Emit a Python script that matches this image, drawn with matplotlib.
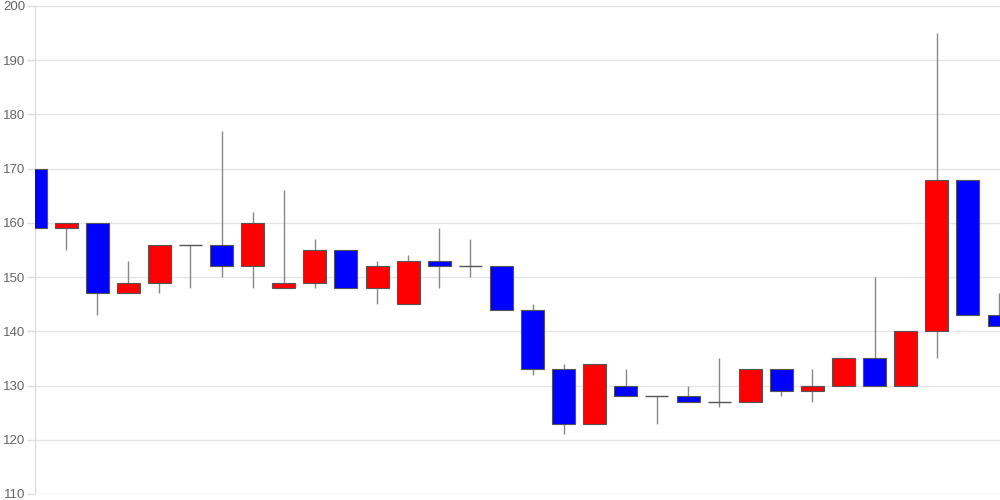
import numpy as np
import matplotlib
matplotlib.use('Agg')
import matplotlib.pyplot as plt

plt.rcParams['font.family'] = ['Liberation Sans', 'DejaVu Sans']

# daily OHLC values
opens  = [170, 159, 160, 147, 149, 156, 156, 152, 148, 149, 155, 148, 145, 153, 152, 152,
          144, 133, 123, 130, 128, 128, 127, 127, 133, 129, 130, 135, 130, 140, 168, 143]
closes = [159, 160, 147, 149, 156, 156, 152, 160, 149, 155, 148, 152, 153, 152, 152, 144,
          133, 123, 134, 128, 128, 127, 127, 133, 129, 130, 135, 130, 140, 168, 143, 141]
highs  = [170, 160, 160, 153, 156, 156, 177, 162, 166, 157, 155, 153, 154, 159, 157, 152,
          145, 134, 134, 133, 128, 130, 135, 133, 133, 133, 135, 150, 140, 195, 168, 147]
lows   = [159, 155, 143, 147, 147, 148, 150, 148, 148, 148, 148, 145, 145, 148, 150, 144,
          132, 121, 123, 128, 123, 127, 126, 127, 128, 127, 130, 130, 130, 135, 143, 141]
yticks = [110, 120, 130, 140, 150, 160, 170, 180, 190, 200]

fig = plt.figure(figsize=(10, 5), dpi=100)
ax = fig.add_axes([0.035, 0.012, 0.965, 0.976])

x = np.arange(len(opens))
width = 0.74
for i in x:
    o, c, h, l = opens[i], closes[i], highs[i], lows[i]
    ax.vlines(i, l, h, color='#888888', linewidth=1, zorder=2)
    if o == c:
        ax.hlines(o, i - width / 2, i + width / 2, color='#555555', linewidth=1, zorder=3)
        continue
    col = 'red' if c > o else 'blue'
    ax.bar(i, abs(c - o), bottom=min(o, c), width=width, color=col,
           edgecolor='#555555', linewidth=0.8, zorder=3)

ax.set_xlim(0, len(opens) - 1 + 0.03)
ax.set_ylim(110, 200)
ax.set_yticks(yticks)
ax.set_xticks([])
ax.grid(axis='y', color='#e6e6e6', linewidth=1, zorder=0)
ax.tick_params(axis='y', length=6, width=1, color='#e0e0e0',
               labelsize=9.5, labelcolor='#666666', pad=1)
for s in ['top', 'right', 'bottom']:
    ax.spines[s].set_visible(False)
ax.spines['left'].set_color('#d9d9d9')

fig.savefig('out.png')
